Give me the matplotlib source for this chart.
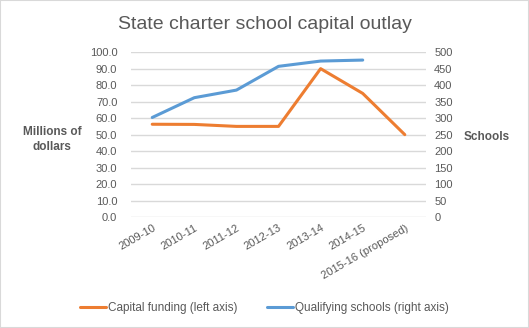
import matplotlib.pyplot as plt
from matplotlib.patches import Rectangle

plt.rcParams['font.family'] = ['Liberation Sans', 'DejaVu Sans']

years = ["2009-10", "2010-11", "2011-12", "2012-13", "2013-14", "2014-15",
         "2015-16 (proposed)"]
capital_funding = [56.3, 56.2, 55.0, 55.0, 90.0, 75.0, 50.0]
qualifying_schools = [302, 362, 385, 457, 473, 476]

orange = "#ED7D31"
blue = "#5B9BD5"
text_col = "#595959"
grid_col = "#D9D9D9"

fig = plt.figure(figsize=(5.29, 3.28), dpi=100)
fig.patches.append(Rectangle((0, 0), 1, 1, transform=fig.transFigure,
                             fill=False, edgecolor=grid_col, linewidth=1.5))
ax = fig.add_axes([0.248, 0.338, 0.557, 0.503])
ax2 = ax.twinx()

x = list(range(len(years)))
l1, = ax.plot(x, capital_funding, color=orange, linewidth=2.2,
              solid_capstyle="round", label="Capital funding (left axis)")
l2, = ax2.plot(x[:len(qualifying_schools)], qualifying_schools, color=blue,
               linewidth=2.2, solid_capstyle="round",
               label="Qualifying schools (right axis)")

ax.set_ylim(0, 100)
ax.set_yticks(range(0, 101, 10))
ax.set_yticklabels([f"{v:.1f}" for v in range(0, 101, 10)])
ax2.set_ylim(0, 500)
ax2.set_yticks(range(0, 501, 50))
ax.set_xlim(-0.5, len(years) - 0.5)
ax.set_xticks(x)
ax.set_xticklabels(years, rotation=30, ha="right", rotation_mode="anchor")

ax.grid(axis="y", color=grid_col, linewidth=1)
ax.set_axisbelow(True)
for a in (ax, ax2):
    for s in a.spines.values():
        s.set_visible(False)
    a.tick_params(length=0, labelsize=8, colors=text_col)
ax.tick_params(axis="y", pad=10)
ax.tick_params(axis="x", pad=4)
ax2.tick_params(axis="y", pad=6)

fig.text(0.5, 0.925, "State charter school capital outlay", ha="center",
         va="center", fontsize=14, color=text_col)
fig.text(0.098, 0.575, "Millions of\ndollars", ha="center", va="center",
         fontsize=8.5, fontweight="bold", color=text_col, linespacing=1.3)
fig.text(0.92, 0.582, "Schools", ha="center", va="center",
         fontsize=8.5, fontweight="bold", color=text_col)

fig.legend(handles=[l1, l2], loc="center", bbox_to_anchor=(0.5, 0.06),
           ncol=2, frameon=False, fontsize=8.5, handlelength=2.2,
           handletextpad=0.2, columnspacing=2.5, labelcolor=text_col)

fig.savefig("out.png", dpi=100)
